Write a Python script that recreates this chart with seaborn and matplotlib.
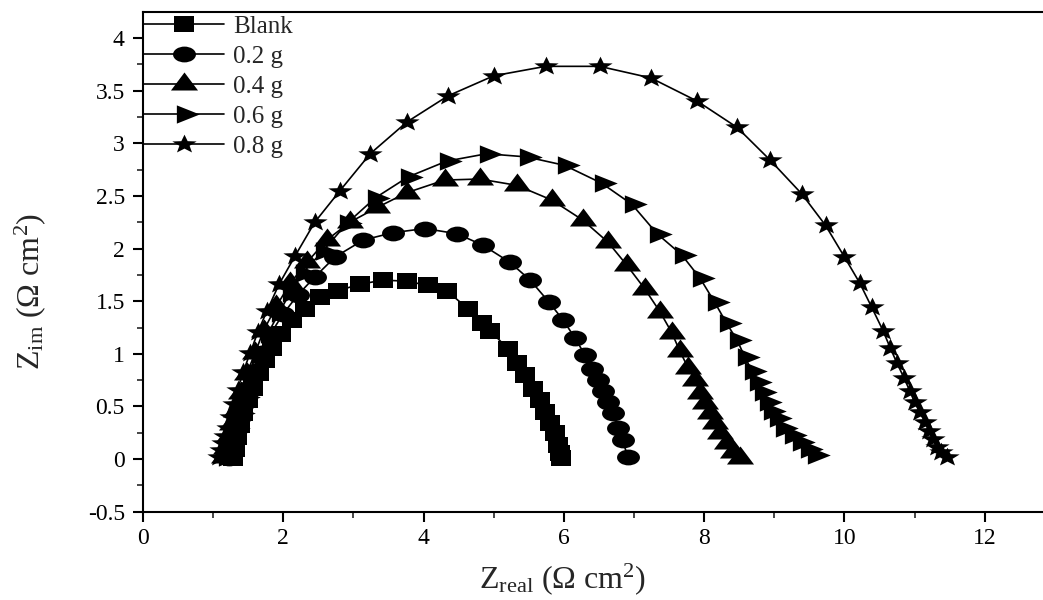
import numpy as np
import pandas as pd
import matplotlib
matplotlib.use("Agg")
import matplotlib.pyplot as plt
from matplotlib.path import Path
from matplotlib.markers import MarkerStyle
from matplotlib.transforms import Affine2D
from matplotlib.ticker import MultipleLocator, FuncFormatter
import seaborn as sns

# ---------------- data ----------------
labels = ["Blank", "0.2 g", "0.4 g", "0.6 g", "0.8 g"]

blank_x = [1.28, 1.31, 1.34, 1.38, 1.43, 1.50, 1.57, 1.65, 1.74, 1.84, 1.97, 2.12,
           2.31, 2.52, 2.78, 3.09, 3.42, 3.76, 4.06, 4.33, 4.63, 4.83, 4.95, 5.20,
           5.33, 5.44, 5.56, 5.66, 5.73, 5.80, 5.87, 5.91, 5.94, 5.96]
blank_y = [0.01, 0.10, 0.21, 0.32, 0.44, 0.56, 0.68, 0.82, 0.94, 1.06, 1.19, 1.32,
           1.43, 1.54, 1.60, 1.66, 1.70, 1.69, 1.65, 1.60, 1.43, 1.29, 1.22, 1.05,
           0.91, 0.80, 0.67, 0.56, 0.45, 0.34, 0.25, 0.13, 0.06, 0.01]

g02_x = [1.23, 1.25, 1.28, 1.33, 1.38, 1.44, 1.51, 1.60, 1.70, 1.82, 2.00, 2.21,
         2.45, 2.74, 3.14, 3.56, 4.02, 4.48, 4.85, 5.23, 5.52, 5.79, 5.99, 6.16,
         6.30, 6.40, 6.48, 6.56, 6.63, 6.70, 6.77, 6.84, 6.91]
g02_y = [0.01, 0.09, 0.17, 0.28, 0.40, 0.53, 0.68, 0.84, 1.01, 1.19, 1.38, 1.56,
         1.73, 1.92, 2.08, 2.15, 2.19, 2.14, 2.03, 1.87, 1.70, 1.49, 1.32, 1.15,
         0.99, 0.86, 0.75, 0.65, 0.54, 0.44, 0.30, 0.18, 0.02]

g04_x = [1.15, 1.18, 1.23, 1.27, 1.33, 1.40, 1.48, 1.60, 1.72, 1.90, 2.10, 2.34,
         2.62, 2.95, 3.34, 3.76, 4.30, 4.80, 5.33, 5.83, 6.27, 6.63, 6.90, 7.15,
         7.37, 7.54, 7.65, 7.77, 7.87, 7.94, 8.01, 8.08, 8.15, 8.22, 8.32, 8.41, 8.51]
g04_y = [0.02, 0.11, 0.22, 0.33, 0.46, 0.63, 0.81, 1.01, 1.22, 1.45, 1.67, 1.87,
         2.08, 2.25, 2.39, 2.53, 2.65, 2.66, 2.60, 2.46, 2.27, 2.06, 1.84, 1.62,
         1.40, 1.20, 1.03, 0.87, 0.75, 0.63, 0.53, 0.44, 0.34, 0.25, 0.15, 0.07, 0.01]

g06_x = [1.18, 1.21, 1.25, 1.31, 1.38, 1.45, 1.54, 1.65, 1.78, 1.94, 2.10, 2.28,
         2.57, 2.91, 3.31, 3.78, 4.33, 4.90, 5.47, 6.01, 6.54, 6.97, 7.33, 7.68,
         7.94, 8.15, 8.32, 8.47, 8.58, 8.68, 8.75, 8.82, 8.89, 8.96, 9.04, 9.12,
         9.25, 9.36, 9.48, 9.58]
g06_y = [0.02, 0.10, 0.19, 0.30, 0.44, 0.59, 0.78, 0.99, 1.19, 1.39, 1.58, 1.77,
         1.98, 2.24, 2.48, 2.68, 2.83, 2.90, 2.87, 2.79, 2.62, 2.42, 2.14, 1.94,
         1.72, 1.49, 1.29, 1.13, 0.97, 0.84, 0.73, 0.64, 0.54, 0.46, 0.39, 0.30,
         0.23, 0.16, 0.10, 0.04]

g08_x = [1.08, 1.11, 1.14, 1.17, 1.21, 1.25, 1.30, 1.35, 1.43, 1.53, 1.64, 1.77,
         1.94, 2.17, 2.45, 2.81, 3.24, 3.76, 4.35, 5.00, 5.74, 6.51, 7.24, 7.90,
         8.47, 8.94, 9.39, 9.73, 10.00, 10.22, 10.39, 10.55, 10.65, 10.75, 10.85,
         10.93, 11.00, 11.07, 11.15, 11.20, 11.26, 11.32, 11.37, 11.46]
g08_y = [0.02, 0.09, 0.15, 0.22, 0.30, 0.40, 0.52, 0.66, 0.83, 1.01, 1.21, 1.41,
         1.66, 1.93, 2.25, 2.55, 2.90, 3.20, 3.45, 3.64, 3.73, 3.73, 3.62, 3.40,
         3.15, 2.84, 2.52, 2.22, 1.92, 1.67, 1.44, 1.22, 1.06, 0.91, 0.77, 0.65,
         0.54, 0.45, 0.35, 0.27, 0.19, 0.12, 0.07, 0.02]

xs = [blank_x, g02_x, g04_x, g06_x, g08_x]
ys = [blank_y, g02_y, g04_y, g06_y, g08_y]

# ---------------- style ----------------
sns.set_theme(style="ticks")
plt.rcParams["font.family"] = ["Liberation Serif", "DejaVu Serif"]
plt.rcParams["mathtext.fontset"] = "custom"
plt.rcParams["mathtext.rm"] = "Liberation Serif"
plt.rcParams["mathtext.it"] = "Liberation Serif:italic"
plt.rcParams["axes.unicode_minus"] = False


def stretched(path, sx=1.0, sy=1.0, rot=0.0):
    t = Affine2D().rotate_deg(rot).scale(sx, sy)
    return MarkerStyle(t.transform_path(path))


sq = Path([(-1, -1), (1, -1), (1, 1), (-1, 1), (-1, -1)],
          [Path.MOVETO, Path.LINETO, Path.LINETO, Path.LINETO, Path.CLOSEPOLY])
markers = [
    stretched(sq, 1.3, 1.0),
    stretched(Path.unit_circle(), 1.45, 1.0),
    stretched(Path.unit_regular_polygon(3), 1.3, 1.0),
    stretched(Path.unit_regular_polygon(3), 1.45, 1.0, rot=-90),
    stretched(Path.unit_regular_star(5, 0.42), 1.3, 1.0),
]
msizes = [15, 16.5, 19.5, 22, 17.5]

fig = plt.figure(figsize=(10.43, 6.0), dpi=100)
ax = fig.add_axes([0.137, 0.147, 0.863, 0.833])

for lab, x, y, m, ms in zip(labels, xs, ys, markers, msizes):
    df = pd.DataFrame({"x": x, "y": y})
    sns.lineplot(data=df, x="x", y="y", sort=False, estimator=None, ax=ax,
                 color="black", linewidth=1.2, marker=m, markersize=ms,
                 markeredgewidth=0, markerfacecolor="black", label=lab)

ax.set_xlim(0, 12.83)
ax.set_ylim(-0.5, 4.246)
ax.xaxis.set_major_locator(MultipleLocator(2))
ax.xaxis.set_minor_locator(MultipleLocator(1))
ax.yaxis.set_major_locator(MultipleLocator(0.5))
ax.yaxis.set_minor_locator(MultipleLocator(0.25))
ax.yaxis.set_major_formatter(FuncFormatter(lambda v, p: "%g" % v))
ax.xaxis.set_major_formatter(FuncFormatter(lambda v, p: "%g" % v))

for s in ["left", "bottom", "top"]:
    ax.spines[s].set_linewidth(1.5)
    ax.spines[s].set_color("black")
ax.spines["right"].set_visible(False)

ax.tick_params(which="major", direction="out", length=7, width=1.5,
               labelsize=17, colors="black", top=False, right=False)
ax.tick_params(which="minor", direction="out", length=4, width=1.2,
               top=False, right=False)
ax.tick_params(axis="x", pad=5)
ax.tick_params(axis="y", pad=6)

ax.set_xlabel(r"Z$_{\mathregular{real}}$ (Ω cm$^{\mathregular{2}}$)", fontsize=23)
ax.set_ylabel(r"Z$_{\mathregular{im}}$ (Ω cm$^{\mathregular{2}}$)", fontsize=23)
ax.xaxis.set_label_coords(0.466, -0.098)
ax.yaxis.set_label_coords(-0.105, 0.44)

leg = ax.legend(loc="upper left", bbox_to_anchor=(0.0, 0.995), borderaxespad=0.0,
                frameon=False, fontsize=18, handlelength=3.2, handletextpad=0.35,
                labelspacing=0.3, borderpad=0.05)

fig.savefig("out.png", dpi=100)
